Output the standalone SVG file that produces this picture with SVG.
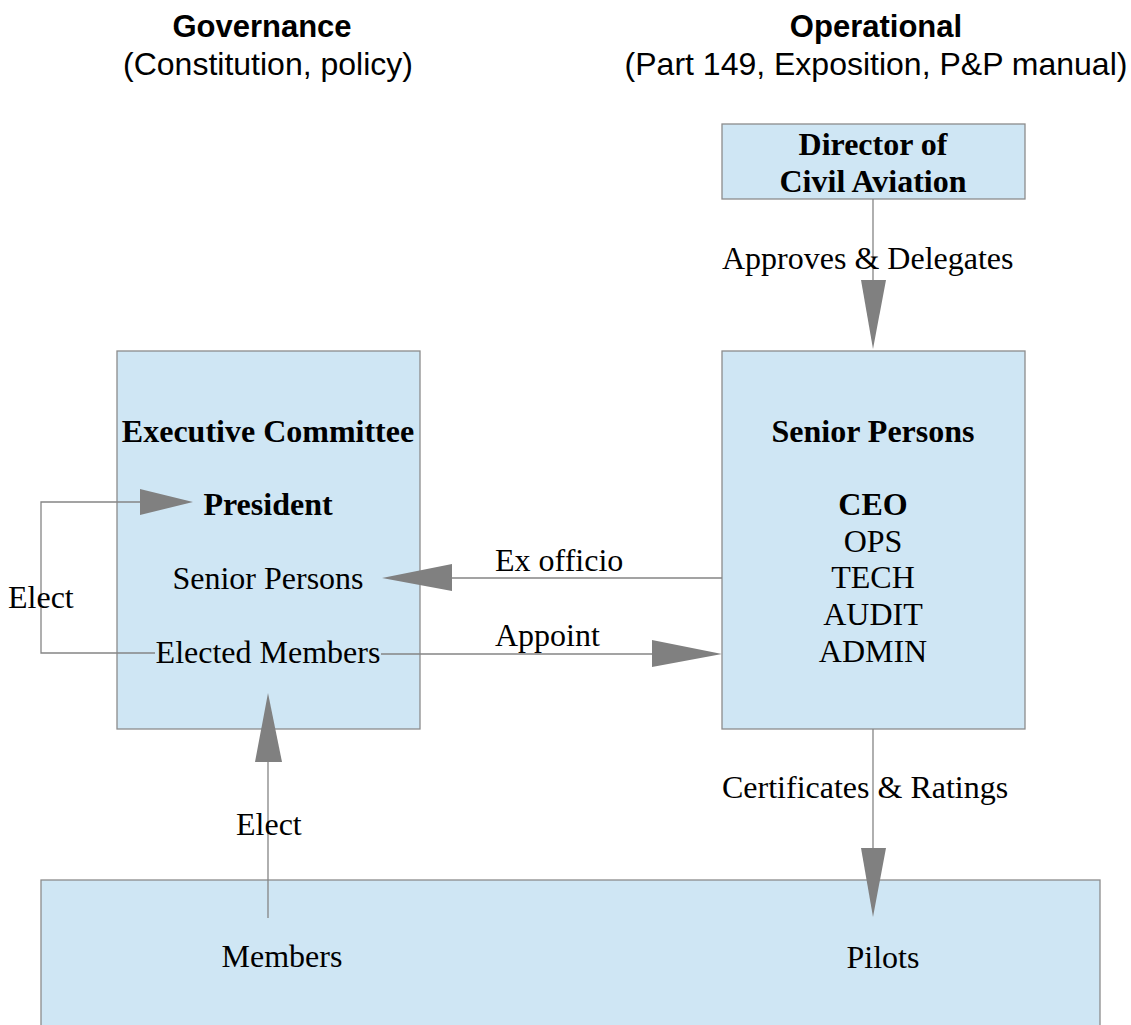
<svg xmlns="http://www.w3.org/2000/svg" width="1131" height="1025" viewBox="0 0 1131 1025">
  <style>
    .box { fill: #cfe6f4; stroke: #8c8c8c; stroke-width: 1.3; }
    .wire { fill: none; stroke: #858585; stroke-width: 1.3; }
    .head { fill: #808080; stroke: none; }
    .hdr { font-family: "Liberation Sans", Arial, sans-serif; font-size: 31px; fill: #000; text-anchor: middle; }
    .sub { font-size: 32px; }
    .t { font-family: "Liberation Serif", "Times New Roman", serif; font-size: 32px; fill: #000; text-anchor: middle; }
    .b { font-weight: bold; }
    .l { text-anchor: start; }
  </style>

  <!-- column headings -->
  <g id="heading-governance">
    <text class="hdr b" x="262" y="37">Governance</text>
    <text class="hdr sub" x="268" y="75">(Constitution, policy)</text>
  </g>
  <g id="heading-operational">
    <text class="hdr b" x="876" y="37">Operational</text>
    <text class="hdr sub" x="876" y="75">(Part 149, Exposition, P&amp;P manual)</text>
  </g>

  <!-- nodes -->
  <g id="members-pilots">
    <rect class="box" x="41" y="880" width="1059" height="170"/>
    <text class="t" x="282" y="967">Members</text>
    <text class="t" x="883" y="968">Pilots</text>
  </g>

  <g id="director">
    <rect class="box" x="722" y="124" width="303" height="75"/>
    <text class="t b" x="873" y="155">Director of</text>
    <text class="t b" x="873" y="192">Civil Aviation</text>
  </g>

  <g id="executive-committee">
    <rect class="box" x="117" y="351" width="303" height="378"/>
    <text class="t b" x="268" y="442">Executive Committee</text>
    <text class="t b" x="268" y="515">President</text>
    <text class="t" x="268" y="589">Senior Persons</text>
    <text class="t" x="268" y="663">Elected Members</text>
  </g>

  <g id="senior-persons">
    <rect class="box" x="722" y="351" width="303" height="378"/>
    <text class="t b" x="873" y="442">Senior Persons</text>
    <text class="t b" x="873" y="515">CEO</text>
    <text class="t" x="873" y="552">OPS</text>
    <text class="t" x="873" y="588">TECH</text>
    <text class="t" x="873" y="625">AUDIT</text>
    <text class="t" x="873" y="662">ADMIN</text>
  </g>

  <!-- connectors -->
  <g id="connectors">
    <!-- Director -> Senior Persons -->
    <line class="wire" x1="873" y1="199" x2="873" y2="282"/>
    <polygon class="head" points="861,280 886,280 873,349"/>
    <text class="t l" x="722" y="269">Approves &amp; Delegates</text>

    <!-- Senior Persons -> Pilots -->
    <line class="wire" x1="873" y1="729" x2="873" y2="850"/>
    <polygon class="head" points="861,848 886,848 873,917"/>
    <text class="t l" x="722" y="798">Certificates &amp; Ratings</text>

    <!-- Senior Persons -> Executive Committee (ex officio) -->
    <line class="wire" x1="722" y1="578" x2="450" y2="578"/>
    <polygon class="head" points="452,564 452,591 382,578"/>
    <text class="t l" x="495" y="571">Ex officio</text>

    <!-- Elected Members -> Senior Persons (appoint) -->
    <line class="wire" x1="381" y1="654" x2="654" y2="654"/>
    <polygon class="head" points="652,640 652,667 722,654"/>
    <text class="t l" x="495" y="646">Appoint</text>

    <!-- Elected Members -> President (elect) -->
    <polyline class="wire" points="155,653 41,653 41,502 142,502"/>
    <polygon class="head" points="140,489 140,515 193,502"/>
    <text class="t l" x="8" y="608">Elect</text>

    <!-- Members -> Executive Committee (elect) -->
    <line class="wire" x1="268" y1="918" x2="268" y2="760"/>
    <polygon class="head" points="255,762 282,762 268,693"/>
    <text class="t l" x="236" y="835">Elect</text>
  </g>
</svg>
